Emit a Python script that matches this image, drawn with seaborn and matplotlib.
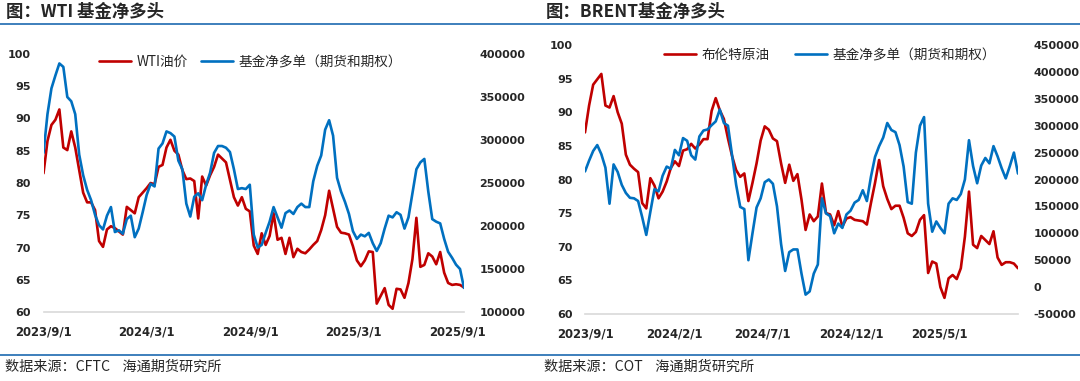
import matplotlib
matplotlib.use("Agg")
import matplotlib.pyplot as plt
from matplotlib.lines import Line2D
import pandas as pd
import seaborn as sns

# weekly COT dates
dates = pd.date_range("2023-09-01", periods=107, freq="7D")

wti_price = [81.5, 86.5, 89.0, 89.8, 91.4, 85.5, 85.1, 88.0, 85.5, 82.0,
             78.5, 77.0, 77.0, 75.8, 71.0, 70.1, 72.8, 73.3, 73.0, 72.5,
             72.0, 76.3, 75.8, 75.3, 77.8, 78.5, 79.2, 80.0, 79.8, 82.5,
             82.8, 85.5, 86.7, 85.0, 84.4, 82.0, 80.6, 80.7, 80.3, 74.5,
             81.0, 79.6, 81.2, 82.5, 84.4, 83.8, 83.2, 80.5, 77.8, 76.5,
             77.8, 76.0, 75.6, 70.3, 69.0, 72.2, 70.4, 71.8, 75.3, 71.2,
             71.5, 69.0, 71.5, 68.5, 69.8, 69.3, 69.1, 69.7, 70.4, 71.0,
             72.7, 75.0, 78.8, 76.0, 73.2, 72.3, 72.2, 72.0, 70.2, 68.0,
             67.1, 68.0, 69.4, 69.3, 61.3, 62.5, 63.7, 61.1, 60.5, 63.6,
             63.5, 62.2, 64.5, 68.2, 74.6, 67.0, 67.3, 69.1, 68.6, 67.4,
             69.3, 66.1, 64.5, 64.2, 64.3, 64.2, 63.8]

wti_net = [285000, 330000, 360000, 375000, 389000, 385000, 350000, 345000, 330000, 283000,
           259000, 242000, 230000, 213000, 201000, 196000, 212000, 222000, 193000, 195000,
           191000, 208000, 212000, 187000, 197000, 216000, 236000, 249000, 246000, 290000,
           296000, 310000, 308000, 304000, 276000, 266000, 226000, 211000, 234000, 238000,
           230000, 248000, 262000, 285000, 293000, 293000, 291000, 286000, 266000, 243000,
           244000, 243000, 248000, 190000, 175000, 178000, 192000, 205000, 222000, 210000,
           198000, 215000, 218000, 214000, 222000, 226000, 222000, 222000, 252000, 270000,
           282000, 312000, 323000, 305000, 256000, 240000, 228000, 214000, 194000, 185000,
           190000, 188000, 192000, 180000, 171000, 180000, 197000, 212000, 210000, 216000,
           213000, 197000, 210000, 238000, 266000, 274000, 278000, 240000, 208000, 205000,
           203000, 185000, 170000, 163000, 155000, 150000, 128000]

brent_price = [87.0, 91.0, 94.1, 94.9, 95.7, 91.0, 90.7, 92.4, 90.0, 88.3,
               83.7, 82.2, 81.6, 81.1, 76.5, 75.7, 80.2, 79.1, 77.2, 78.2,
               79.7, 81.7, 82.7, 82.0, 84.3, 84.5, 85.3, 84.6, 85.2, 86.0,
               86.0, 90.2, 92.1, 90.3, 89.0, 86.1, 83.5, 81.4, 80.4, 80.9,
               76.8, 79.5, 82.4, 85.8, 87.9, 87.4, 86.1, 85.7, 82.4, 79.5,
               82.2, 79.8, 80.8, 77.0, 72.5, 74.8, 73.8, 74.5, 79.4, 75.0,
               74.8, 73.2, 75.3, 73.0, 74.2, 74.4, 74.0, 73.9, 73.8, 73.3,
               76.5, 79.5, 82.9, 79.0, 77.1, 75.6, 76.1, 76.1, 74.3, 72.0,
               71.6, 72.2, 74.0, 74.7, 66.1, 67.8, 67.5, 64.0, 62.4, 65.3,
               65.8, 65.2, 66.8, 71.5, 78.2, 70.3, 69.8, 71.6, 71.0, 70.4,
               72.3, 68.4, 67.3, 67.7, 67.7, 67.5, 66.8]

brent_net = [215000, 235000, 253000, 264000, 247000, 222000, 155000, 228000, 214000, 190000,
             175000, 166000, 165000, 160000, 130000, 97000, 140000, 182000, 178000, 207000,
             224000, 220000, 255000, 245000, 277000, 272000, 245000, 237000, 280000, 291000,
             293000, 301000, 308000, 330000, 305000, 300000, 245000, 190000, 149000, 145000,
             50000, 100000, 148000, 165000, 195000, 200000, 192000, 150000, 80000, 30000,
             65000, 70000, 70000, 25000, -14000, -8000, 25000, 42000, 165000, 137000,
             132000, 100000, 118000, 110000, 135000, 142000, 157000, 162000, 180000, 160000,
             205000, 242000, 262000, 278000, 305000, 292000, 288000, 264000, 224000, 158000,
             155000, 250000, 300000, 316000, 155000, 103000, 122000, 110000, 100000, 155000,
             165000, 162000, 173000, 200000, 273000, 225000, 193000, 226000, 240000, 230000,
             262000, 243000, 221000, 202000, 225000, 250000, 211000]

wti_ticks = ["2023-09-01", "2024-03-01", "2024-09-01", "2025-03-01", "2025-09-01"]
wti_tick_labels = ["2023/9/1", "2024/3/1", "2024/9/1", "2025/3/1", "2025/9/1"]
brent_ticks = ["2023-09-01", "2024-02-01", "2024-07-01", "2024-12-01", "2025-05-01"]
brent_tick_labels = ["2023/9/1", "2024/2/1", "2024/7/1", "2024/12/1", "2025/5/1"]

RED = "#C00000"
BLUE = "#0070C0"
NAVY = "#2E75B6"

sns.set_style("white")
plt.rcParams["font.family"] = ["Noto Sans CJK SC", "DejaVu Sans"]

W, H = 1080, 381
fig = plt.figure(figsize=(W / 100, H / 100), dpi=100)


def box(x0, y0, x1, y1):
    return [x0 / W, 1 - y1 / H, (x1 - x0) / W, (y1 - y0) / H]


def panel(rect, price, net, price_name, yl, yr, ticks, labels):
    df = pd.DataFrame({"date": dates, "price": price, "net": net})
    ax = fig.add_axes(rect)
    ax2 = ax.twinx()
    sns.lineplot(data=df, x="date", y="price", ax=ax, color=RED, lw=1.9, label=price_name)
    sns.lineplot(data=df, x="date", y="net", ax=ax2, color=BLUE, lw=1.9,
                 label="基金净多单（期货和期权）")
    for a in (ax, ax2):
        if a.get_legend():
            a.get_legend().remove()
        a.set_xlabel("")
        a.set_ylabel("")
        for s in ("top", "left", "right", "bottom"):
            a.spines[s].set_visible(False)
        a.tick_params(axis="y", length=0, pad=9)
        a.grid(False)
    ax.spines["bottom"].set_visible(True)
    ax.spines["bottom"].set_color("#D9D9D9")
    ax.spines["bottom"].set_linewidth(1.2)
    ax.set_xlim(dates[0], dates[-1])
    ax.set_ylim(yl[0], yl[-1])
    ax.set_yticks(yl)
    ax.set_yticklabels([str(v) for v in yl], fontweight="bold", family="DejaVu Sans", fontsize=8)
    ax2.set_ylim(yr[0], yr[-1])
    ax2.set_yticks(yr)
    ax2.set_yticklabels([str(v) for v in yr], fontweight="bold", family="DejaVu Sans", fontsize=8)
    ax2.tick_params(axis="y", pad=11)
    ax.set_xticks(pd.to_datetime(ticks))
    ax.set_xticklabels(labels, fontweight="bold", family="DejaVu Sans", fontsize=8.4)
    ax.tick_params(axis="x", length=4, color="#D9D9D9", width=1.2, pad=6)
    return ax, ax2


axL, axL2 = panel(box(43.5, 54, 464, 312), wti_price, wti_net, "WTI油价",
                  list(range(60, 101, 5)), list(range(100000, 400001, 50000)),
                  wti_ticks, wti_tick_labels)
axR, axR2 = panel(box(585, 45, 1018, 314), brent_price, brent_net, "布伦特原油",
                  list(range(60, 101, 5)), list(range(-50000, 450001, 50000)),
                  brent_ticks, brent_tick_labels)

# legends
for ax, ax2, xy, cs in ((axL, axL2, (92, 62), 1.0), (axR, axR2, (657, 55), 1.9)):
    hs = [ax.get_lines()[0], ax2.get_lines()[0]]
    fig.legend(hs, [h.get_label() for h in hs], loc="center left",
               bbox_to_anchor=(xy[0] / W, 1 - xy[1] / H), ncol=2, frameon=False,
               handlelength=2.35, handletextpad=0.4, columnspacing=cs, borderpad=0,
               prop={"size": 9.8})

# titles, rules and source notes
fig.text(6 / W, 1 - 12 / H, "图：WTI 基金净多头", fontsize=12.5, fontweight="bold",
         va="center", ha="left")
fig.text(546 / W, 1 - 12 / H, "图：BRENT基金净多头", fontsize=12.5, fontweight="bold",
         va="center", ha="left")
fig.text(5 / W, 1 - 367 / H, "数据来源：CFTC    海通期货研究所", fontsize=10.2,
         va="center", ha="left")
fig.text(544 / W, 1 - 367 / H, "数据来源：COT    海通期货研究所", fontsize=10.2,
         va="center", ha="left")
for y in (23.5, 354.5):
    fig.add_artist(Line2D([0, 1], [1 - y / H, 1 - y / H], color=NAVY, lw=1.3))

fig.savefig("out.png", dpi=100)
